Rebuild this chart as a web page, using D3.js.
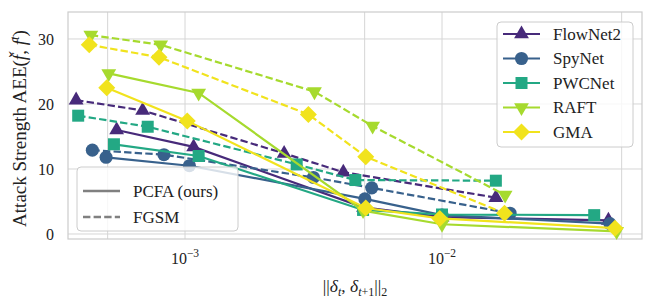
<!DOCTYPE html>
<html>
<head>
<meta charset="utf-8">
<script src="https://cdn.jsdelivr.net/npm/d3@7"></script>
<style>
  body { margin: 0; background: #fff; }
  svg { display: block; font-family: "Liberation Serif", "DejaVu Serif", serif; }
</style>
</head>
<body>
<div class="chart"></div>
<script>
// values (x: perturbation norm, y: AEE)
const models = ["FlowNet2", "SpyNet", "PWCNet", "RAFT", "GMA"]
const colors = ["#472a7a", "#38618c", "#23a884", "#a6da2e", "#f1e31d"]
const shapes = ["triUp", "circle", "square", "triDown", "diamond"]

const pcfaX = [
  [5.42e-4, 1.08e-3, 4.95e-3, 1.0e-2, 4.44e-2],
  [4.93e-4, 1.04e-3, 5.01e-3, 1.0e-2, 4.50e-2],
  [5.29e-4, 1.13e-3, 4.93e-3, 1.0e-2, 3.91e-2],
  [5.05e-4, 1.13e-3, 4.93e-3, 1.0e-2, 4.78e-2],
  [4.96e-4, 1.02e-3, 5.05e-3, 0.98e-2, 4.71e-2]
]
const pcfaY = [
  [16.0, 13.4, 4.1, 2.6, 2.1],
  [11.8, 10.5, 5.4, 2.9, 1.6],
  [13.8, 12.0, 3.7, 3.0, 2.9],
  [24.7, 21.7, 3.6, 1.5, 0.4],
  [22.5, 17.4, 4.0, 2.4, 0.9]
]
const fgsmX = [
  [3.77e-4, 6.84e-4, 2.43e-3, 4.13e-3, 1.62e-2],
  [4.36e-4, 8.28e-4, 3.16e-3, 5.33e-3, 1.84e-2],
  [3.84e-4, 7.16e-4, 2.72e-3, 4.60e-3, 1.62e-2],
  [4.30e-4, 8.04e-4, 3.19e-3, 5.37e-3, 1.76e-2],
  [4.24e-4, 7.92e-4, 3.02e-3, 5.05e-3, 1.75e-2]
]
const fgsmY = [
  [20.6, 19.0, 12.4, 9.5, 5.6],
  [12.9, 12.2, 8.7, 7.1, 3.2],
  [18.2, 16.5, 10.7, 8.3, 8.2],
  [30.6, 29.1, 21.9, 16.6, 6.0],
  [29.1, 27.2, 18.4, 11.9, 3.2]
]
const yTicks = [0, 10, 20, 30]
const xTicks = [1e-3, 1e-2]
const xGrid = [5e-4, 1e-3, 5e-3, 1e-2, 5e-2]

const width = 654, height = 305
const margin = {top: 12, right: 12, bottom: 66, left: 68}

const svg = d3.select(".chart").append("svg")
  .attr("width", width)
  .attr("height", height)

const x = d3.scaleLog()
  .domain([3.505e-4, 6.0e-2])
  .range([margin.left, width - margin.right])
const y = d3.scaleLinear()
  .domain([-0.77, 34.15])
  .range([height - margin.bottom, margin.top])

// grid
svg.append("g").selectAll("line.gx")
  .data(xGrid)
  .join("line")
    .attr("x1", d => x(d)).attr("x2", d => x(d))
    .attr("y1", margin.top).attr("y2", height - margin.bottom)
    .attr("stroke", "#d6d6d6").attr("stroke-width", 1)
svg.append("g").selectAll("line.gy")
  .data(yTicks)
  .join("line")
    .attr("x1", margin.left).attr("x2", width - margin.right)
    .attr("y1", d => y(d)).attr("y2", d => y(d))
    .attr("stroke", "#d6d6d6").attr("stroke-width", 1)

// frame
svg.append("rect")
  .attr("x", margin.left).attr("y", margin.top)
  .attr("width", width - margin.left - margin.right)
  .attr("height", height - margin.top - margin.bottom)
  .attr("fill", "none").attr("stroke", "#cccccc").attr("stroke-width", 1.2)

// y tick labels
svg.append("g").selectAll("text")
  .data(yTicks)
  .join("text")
    .attr("x", margin.left - 14)
    .attr("y", d => y(d))
    .attr("dy", "0.35em")
    .attr("text-anchor", "end")
    .attr("font-size", 16)
    .attr("fill", "#222")
    .text(d => d)

// x tick labels 10^-k
const xt = svg.append("g").selectAll("text")
  .data(xTicks)
  .join("text")
    .attr("x", d => x(d))
    .attr("y", height - margin.bottom + 25)
    .attr("text-anchor", "middle")
    .attr("font-size", 16)
    .attr("fill", "#222")
xt.append("tspan").text("10")
xt.append("tspan")
  .attr("dy", -7).attr("font-size", 11.5)
  .text(d => "\u2212" + Math.round(-Math.log10(d)))

// axis labels
const xl = svg.append("text")
  .attr("x", (margin.left + width - margin.right) / 2)
  .attr("y", height - 13)
  .attr("text-anchor", "middle")
  .attr("font-size", 17.5)
  .attr("fill", "#222")
xl.append("tspan").text("||")
xl.append("tspan").attr("font-style", "italic").text("δ")
xl.append("tspan").attr("font-size", 12).attr("dy", 4).attr("font-style", "italic").text("t")
xl.append("tspan").attr("dy", -4).text(", ")
xl.append("tspan").attr("font-style", "italic").text("δ")
xl.append("tspan").attr("font-size", 12).attr("dy", 4).attr("font-style", "italic").text("t")
xl.append("tspan").attr("font-size", 12).text("+1")
xl.append("tspan").attr("dy", -4).text("||")
xl.append("tspan").attr("font-size", 12).attr("dy", 4).text("2")

const yl = svg.append("text")
  .attr("transform", `translate(26,${(margin.top + height - margin.bottom) / 2 + 3}) rotate(-90)`)
  .attr("text-anchor", "middle")
  .attr("font-size", 19)
  .attr("fill", "#222")
yl.append("tspan").text("Attack Strength AEE(")
yl.append("tspan").attr("font-style", "italic").text("f\u030C")
yl.append("tspan").text(", ")
yl.append("tspan").attr("font-style", "italic").text("f")
yl.append("tspan").attr("font-style", "italic").attr("font-size", 13).attr("dy", -7).text("t")
yl.append("tspan").attr("dy", 7).text(")")

// marker paths
function markerPath(shape) {
  if (shape === "circle") return d3.symbol(d3.symbolCircle, 135)()
  if (shape === "square") return "M-6,-6H6V6H-6Z"
  if (shape === "diamond") return "M0,-8.5L8.5,0L0,8.5L-8.5,0Z"
  if (shape === "triUp") return "M0,-8.5L7.4,4.3L-7.4,4.3Z"
  return "M0,8.5L7.4,-4.3L-7.4,-4.3Z"
}

const line = d3.line()
  .x(d => x(d[0]))
  .y(d => y(d[1]))

const plot = svg.append("g")

models.forEach((m, i) => {
  const solid = pcfaX[i].map((v, j) => [v, pcfaY[i][j]])
  const dashed = fgsmX[i].map((v, j) => [v, fgsmY[i][j]])
  ;[[solid, null], [dashed, "7.4,3.2"]].forEach(([pts, dash]) => {
    const g = plot.append("g")
    g.append("path")
      .datum(pts)
      .attr("d", line)
      .attr("fill", "none")
      .attr("stroke", colors[i])
      .attr("stroke-width", 2.2)
      .attr("stroke-dasharray", dash)
    g.selectAll("path.mk")
      .data(pts)
      .join("path")
        .attr("class", "mk")
        .attr("d", markerPath(shapes[i]))
        .attr("transform", d => `translate(${x(d[0])},${y(d[1])})`)
        .attr("fill", colors[i])
  })
})

// model legend (top right)
const lg = svg.append("g").attr("transform", "translate(497,22)")
lg.append("rect")
  .attr("width", 136).attr("height", 125).attr("rx", 4)
  .attr("fill", "rgba(255,255,255,0.8)").attr("stroke", "#cccccc").attr("stroke-width", 1)
models.forEach((m, i) => {
  const row = lg.append("g").attr("transform", `translate(0,${12 + i * 24.5})`)
  row.append("line")
    .attr("x1", 6).attr("x2", 43)
    .attr("stroke", colors[i]).attr("stroke-width", 2.2)
  row.append("path")
    .attr("d", markerPath(shapes[i]))
    .attr("transform", "translate(24.5,0)")
    .attr("fill", colors[i])
  row.append("text")
    .attr("x", 56).attr("dy", "0.35em")
    .attr("font-size", 17).attr("fill", "#222")
    .text(m)
})

// line style legend (bottom left)
const ls = svg.append("g").attr("transform", "translate(77,167)")
ls.append("rect")
  .attr("width", 161).attr("height", 64).attr("rx", 4)
  .attr("fill", "rgba(255,255,255,0.8)").attr("stroke", "#cccccc").attr("stroke-width", 1)
const styles = [["PCFA (ours)", null], ["FGSM", "7.4,3.2"]]
styles.forEach(([label, dash], i) => {
  const row = ls.append("g").attr("transform", `translate(0,${24 + i * 26})`)
  row.append("line")
    .attr("x1", 6).attr("x2", 43)
    .attr("stroke", "#808080").attr("stroke-width", 2.5)
    .attr("stroke-dasharray", dash)
  row.append("text")
    .attr("x", 56).attr("dy", "0.35em")
    .attr("font-size", 17).attr("fill", "#222")
    .text(label)
})
</script>
</body>
</html>
